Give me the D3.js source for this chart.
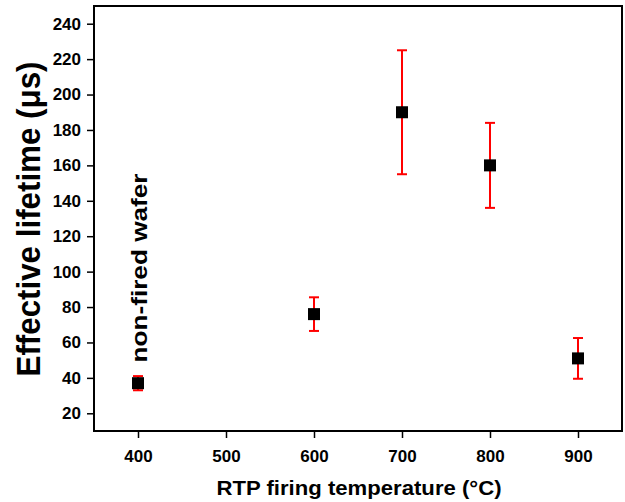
<!DOCTYPE html>
<html>
<head>
<meta charset="utf-8">
<title>effective lifetime</title>
<script src="https://cdn.jsdelivr.net/npm/d3@7"></script>
<style>
  body { margin: 0; background: #fff; }
  text { font-family: "Liberation Sans", Arial, sans-serif; font-weight: bold; }
</style>
</head>
<body>
<script>
// data
var temps = [400, 600, 700, 800, 900];
var lifetime = [37, 76, 190, 160, 51];
var errLow = [4, 9.5, 35, 24, 11.5];
var errHigh = [4, 9.5, 35, 24, 11.5];
var xTicks = [400, 500, 600, 700, 800, 900];
var yTicks = [20, 40, 60, 80, 100, 120, 140, 160, 180, 200, 220, 240];

var width = 625, height = 502;
var m = {left: 94, right: 3, top: 6, bottom: 71};

var svg = d3.select("body").append("svg").attr("width", width).attr("height", height);

var x = d3.scaleLinear().domain([350, 950]).range([m.left, width - m.right]);
var y = d3.scaleLinear().domain([10, 250]).range([height - m.bottom, m.top]);

// frame
svg.append("rect")
    .attr("x", m.left).attr("y", m.top)
    .attr("width", width - m.right - m.left)
    .attr("height", height - m.bottom - m.top)
    .attr("fill", "none").attr("stroke", "#000").attr("stroke-width", 2);

// x axis
var xAxis = svg.append("g").attr("transform", "translate(0," + (height - m.bottom) + ")");
xAxis.call(d3.axisBottom(x).tickValues(d3.range(350, 951, 50)).tickSize(5).tickFormat(""));
xAxis.call(d3.axisBottom(x).tickValues(xTicks).tickSize(7).tickPadding(12));
xAxis.selectAll("path").remove();
xAxis.selectAll("line").attr("stroke-width", 1.5);
xAxis.selectAll("text").attr("font-size", 17).attr("font-family", "Liberation Sans").attr("font-weight", "bold").attr("fill", "#000");

// y axis
var yAxis = svg.append("g").attr("transform", "translate(" + m.left + ",0)");
yAxis.call(d3.axisLeft(y).tickValues(d3.range(10, 251, 10)).tickSize(4).tickFormat(""));
yAxis.call(d3.axisLeft(y).tickValues(yTicks).tickSize(7).tickPadding(6));
yAxis.selectAll("path").remove();
yAxis.selectAll("line").attr("stroke-width", 1.5);
yAxis.selectAll("text").attr("font-size", 17).attr("font-family", "Liberation Sans").attr("font-weight", "bold").attr("fill", "#000");

// error bars
var bars = svg.append("g").attr("stroke", "red").attr("stroke-width", 2);
temps.forEach(function(t, i) {
    var cx = x(t), top = y(lifetime[i] + errHigh[i]), bot = y(lifetime[i] - errLow[i]);
    bars.append("line").attr("x1", cx).attr("x2", cx).attr("y1", top).attr("y2", bot);
    bars.append("line").attr("x1", cx - 5).attr("x2", cx + 5).attr("y1", top).attr("y2", top);
    bars.append("line").attr("x1", cx - 5).attr("x2", cx + 5).attr("y1", bot).attr("y2", bot);
});

// markers
svg.selectAll("rect.pt")
    .data(temps)
    .enter()
    .append("rect")
    .attr("class", "pt")
    .attr("x", function(d) { return x(d) - 6; })
    .attr("y", function(d, i) { return y(lifetime[i]) - 6; })
    .attr("width", 12).attr("height", 12)
    .attr("fill", "#000");

// annotation
svg.append("text")
    .attr("transform", "translate(147,268) rotate(-90)")
    .attr("text-anchor", "middle")
    .attr("font-size", 22)
    .attr("textLength", 189).attr("lengthAdjust", "spacingAndGlyphs")
    .text("non-fired wafer");

// axis titles
svg.append("text")
    .attr("transform", "translate(40,219) rotate(-90)")
    .attr("text-anchor", "middle")
    .attr("font-size", 33)
    .attr("textLength", 315).attr("lengthAdjust", "spacingAndGlyphs")
    .text("Effective lifetime (\u03bcs)");

svg.append("text")
    .attr("x", 359).attr("y", 495)
    .attr("text-anchor", "middle")
    .attr("font-size", 19.5)
    .attr("textLength", 285).attr("lengthAdjust", "spacingAndGlyphs")
    .text("RTP firing temperature (\u00b0C)");
</script>
</body>
</html>
